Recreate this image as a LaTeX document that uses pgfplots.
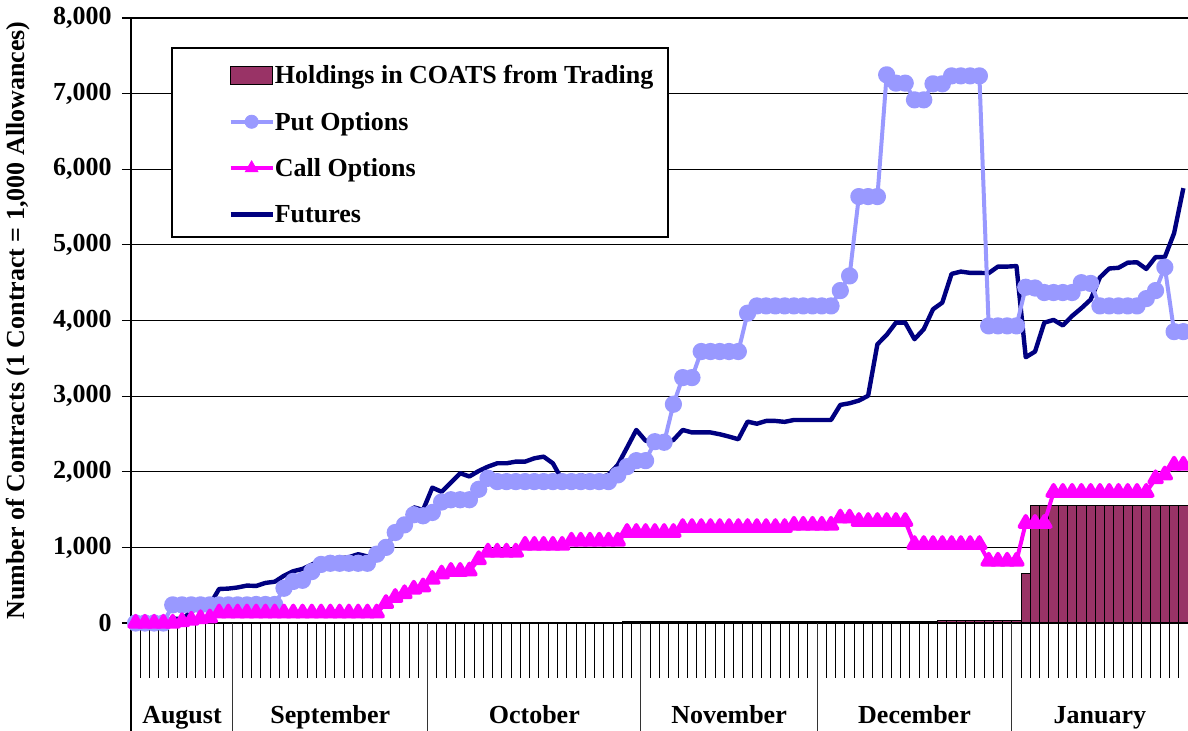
\documentclass[border=0pt]{standalone}
\usepackage{fontspec}
\setmainfont{Liberation Serif}
\usepackage{pgfplots}
\usepackage{pgfplotstable}
\pgfplotsset{compat=1.18}
\definecolor{plum}{HTML}{993366}
\definecolor{putc}{HTML}{9999FF}
\definecolor{callc}{HTML}{FF00FF}
\definecolor{futc}{HTML}{000080}
\newcommand\ff{\fontsize{13}{15}\selectfont\bfseries}

\pgfplotstableread{
x put call fut
0 0 0 0
1 0 0 0
2 0 0 0
3 0 0 0
4 240 0 60
5 240 20 50
6 240 40 150
7 240 60 220
8 240 70 240
9 240 135 450
10 240 135 455
11 240 135 470
12 240 135 495
13 245 135 490
14 245 135 530
15 245 135 546
16 460 135 625
17 550 135 685
18 565 135 715
19 680 135 772
20 775 135 835
21 790 135 845
22 790 135 855
23 790 135 870
24 790 135 910
25 790 135 880
26 910 135 895
27 1000 260 1005
28 1197 340 1197
29 1298 390 1298
30 1432 450 1530
31 1418 480 1495
32 1462 580 1790
33 1600 650 1735
34 1630 685 1855
35 1630 685 1980
36 1630 690 1938
37 1768 840 2010
38 1914 940 2068
39 1870 940 2112
40 1870 940 2112
41 1870 940 2134
42 1870 1030 2134
43 1870 1030 2178
44 1870 1030 2200
45 1870 1030 2112
46 1870 1030 1892
47 1870 1085 1892
48 1870 1085 1955
49 1870 1085 1920
50 1870 1085 1920
51 1870 1085 1960
52 1958 1085 2090
53 2068 1200 2320
54 2147 1200 2553
55 2147 1200 2410
56 2398 1200 2398
57 2390 1200 2398
58 2893 1200 2420
59 3245 1265 2553
60 3245 1265 2520
61 3590 1265 2520
62 3590 1265 2520
63 3590 1265 2496
64 3590 1265 2465
65 3590 1265 2430
66 4097 1265 2663
67 4193 1265 2635
68 4193 1265 2672
69 4193 1265 2672
70 4193 1265 2660
71 4193 1295 2685
72 4193 1295 2685
73 4193 1295 2685
74 4193 1295 2685
75 4193 1295 2685
76 4396 1390 2884
77 4590 1390 2906
78 5639 1345 2941
79 5639 1345 3005
80 5639 1345 3686
81 7249 1345 3810
82 7139 1345 3972
83 7139 1345 3972
84 6918 1040 3753
85 6918 1040 3885
86 7130 1040 4149
87 7130 1040 4237
88 7235 1040 4616
89 7235 1040 4647
90 7235 1040 4630
91 7235 1040 4630
92 3929 820 4626
93 3929 820 4713
94 3929 820 4713
95 3929 820 4720
96 4440 1320 3514
97 4430 1320 3589
98 4370 1320 3972
99 4370 1730 4008
100 4370 1730 3935
101 4370 1730 4060
102 4500 1730 4163
103 4490 1730 4277
104 4193 1730 4570
105 4193 1730 4688
106 4193 1730 4697
107 4193 1730 4765
108 4193 1730 4770
109 4290 1730 4682
110 4396 1910 4838
111 4705 1960 4838
112 3853 2090 5155
113 3853 2090 5750
}\maindata

\pgfplotstableread{
x hold
45 8
46 8
47 8
48 8
49 8
50 8
51 8
52 8
53 15
54 15
55 15
56 15
57 15
58 15
59 15
60 15
61 15
62 15
63 15
64 15
65 15
66 15
67 15
68 22
69 22
70 22
71 22
72 22
73 22
74 22
75 22
76 22
77 22
78 22
79 22
80 22
81 22
82 22
83 22
84 22
85 22
86 22
87 28
88 28
89 28
90 28
91 28
92 28
93 28
94 28
95 28
96 655
97 1548
98 1548
99 1548
100 1548
101 1548
102 1548
103 1548
104 1548
105 1548
106 1548
107 1548
108 1548
109 1548
110 1548
111 1548
112 1548
113 1548
}\holddata

\begin{document}
\begin{tikzpicture}
\begin{axis}[name=ax, scale only axis, width=528.5pt, height=302.5pt,
  xmin=-0.5, xmax=113.5, ymin=0, ymax=8000,
  clip=false,
  axis line style={draw=none},
  xtick=\empty,
  ytick={0,1000,...,8000},
  yticklabels={0,{1,000},{2,000},{3,000},{4,000},{5,000},{6,000},{7,000},{8,000}},
  ytick pos=left,
  yticklabel style={font=\ff, anchor=east, inner sep=0pt, xshift=-5pt},
  tick align=outside, major tick length=4.5pt,
  tick style={black, line width=0.6pt},
  ymajorgrids, grid style={black, line width=0.6pt},
  legend style={draw=none, fill=none, at={(0.0918,0.9264)}, anchor=north west,
    inner sep=0pt, row sep=10.65pt, column sep=0pt,
    nodes={text height=10.5pt, text depth=2pt, inner sep=0pt, font=\ff}},
  legend cell align=left,
]
% legend frame
\draw[black, line width=0.6pt, fill=white] (rel axis cs:0.0388,0.6380) rectangle (rel axis cs:0.5080,0.9504);

\addplot[ybar, bar width=1, bar shift=0pt, fill=plum, draw=black, line width=0.5pt, forget plot]
  table[x=x, y=hold]{\holddata};
\addplot[futc, line width=2.2pt, line join=round, no markers, forget plot]
  table[x=x, y=fut]{\maindata};
\addplot[putc, line width=2pt, line join=round, mark=*, mark size=3.3pt, mark options={draw=none, fill=putc}, forget plot]
  table[x=x, y=put]{\maindata};
\addplot[callc, line width=2pt, line join=round, mark=triangle*, mark size=3.6pt, mark options={draw=none, fill=callc}, forget plot]
  table[x=x, y=call]{\maindata};

\addlegendimage{legend image code/.code={\draw[fill=plum, draw=black, line width=0.5pt] (0pt,-4.5pt) rectangle (21pt,4.5pt);}}
\addlegendentry{Holdings in COATS from Trading}
\addlegendimage{legend image code/.code={\draw[putc, line width=2pt] (0pt,0pt) -- (21pt,0pt); \fill[putc] (10.5pt,0pt) circle[radius=3.3pt];}}
\addlegendentry{Put Options}
\addlegendimage{legend image code/.code={\draw[callc, line width=2pt] (0pt,0pt) -- (21pt,0pt); \fill[callc] (10.5pt,3.6pt) -- (7.382pt,-1.8pt) -- (13.618pt,-1.8pt) -- cycle;}}
\addlegendentry{Call Options}
\addlegendimage{legend image code/.code={\draw[futc, line width=2.2pt] (0pt,0pt) -- (21pt,0pt);}}
\addlegendentry{Futures}

% axis lines
\draw[black, line width=0.6pt] (rel axis cs:0,0) -- (rel axis cs:1,0);
\draw[black, line width=0.6pt] (rel axis cs:0,1) -- (rel axis cs:0,0) -- ++(0pt,-60pt);
% category ticks
\pgfplotsinvokeforeach{-0.5,0.5,...,113.5}{\draw[black, line width=0.5pt] (axis cs:#1,0) -- ++(0pt,-27.5pt);}
% month separators
\pgfplotsinvokeforeach{10.5,31.5,54.5,73.5,94.5,113.5}{\draw[black!80, line width=0.5pt] (axis cs:#1,0) -- ++(0pt,-60pt);}
% month labels
\path (axis cs:5,0) ++(0pt,-50pt) node[anchor=base, font=\ff, inner sep=0pt]{August};
\path (axis cs:21,0) ++(0pt,-50pt) node[anchor=base, font=\ff, inner sep=0pt]{September};
\path (axis cs:43,0) ++(0pt,-50pt) node[anchor=base, font=\ff, inner sep=0pt]{October};
\path (axis cs:64,0) ++(0pt,-50pt) node[anchor=base, font=\ff, inner sep=0pt]{November};
\path (axis cs:84,0) ++(0pt,-50pt) node[anchor=base, font=\ff, inner sep=0pt]{December};
\path (axis cs:104,0) ++(0pt,-50pt) node[anchor=base, font=\ff, inner sep=0pt]{January};
% y label
\path (rel axis cs:0,0.5) ++(-56.5pt,0pt) node[rotate=90, font=\ff, inner sep=0pt]{Number of Contracts (1 Contract = 1,000 Allowances)};
\end{axis}
\pgfresetboundingbox
\useasboundingbox (ax.south west) ++(-65.5pt,-53.5pt) rectangle ++(594pt,365pt);
\end{tikzpicture}
\end{document}
